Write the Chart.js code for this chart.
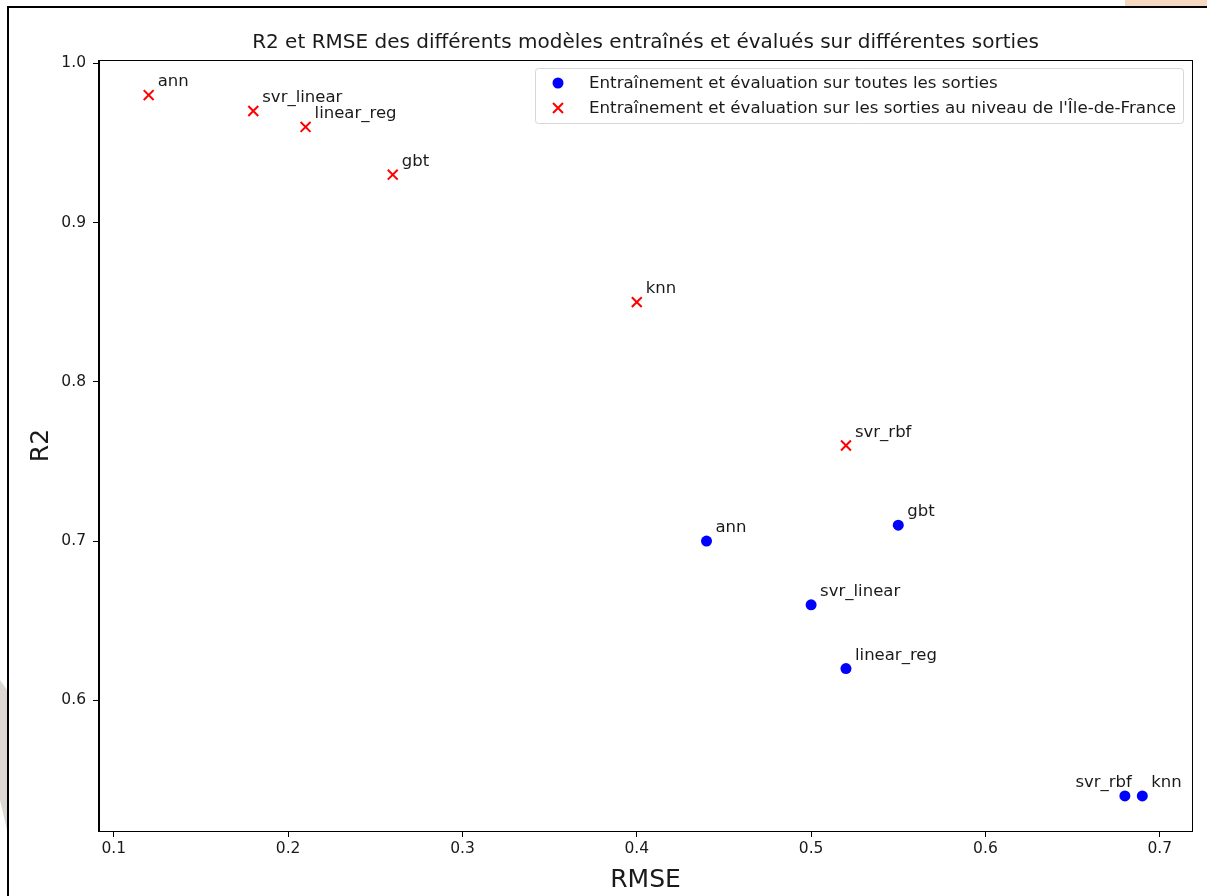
<!DOCTYPE html>
<html>
<head>
<meta charset="utf-8">
<script src="https://cdn.jsdelivr.net/npm/chart.js@4/dist/chart.umd.min.js"></script>
<style>
  html, body { margin: 0; padding: 0; background: #fff; }
  #wrap { width: 1207px; height: 896px; position: relative; }
</style>
</head>
<body>
<div id="wrap"><canvas id="c" width="1207" height="896"></canvas></div>
<script>
// ---- data ----
const titleText = "R2 et RMSE des différents modèles entraînés et évalués sur différentes sorties";
const xTitle = "RMSE";
const yTitle = "R2";
const xTicks = [0.1, 0.2, 0.3, 0.4, 0.5, 0.6, 0.7];
const yTicks = [0.6, 0.7, 0.8, 0.9, 1.0];

const seriesAllLabel = "Entraînement et évaluation sur toutes les sorties";
const allModels = ["ann", "svr_linear", "linear_reg", "gbt", "svr_rbf", "knn"];
const allRmse   = [0.44, 0.50, 0.52, 0.55, 0.68, 0.69];
const allR2     = [0.70, 0.66, 0.62, 0.71, 0.54, 0.54];

const seriesIdfLabel = "Entraînement et évaluation sur les sorties au niveau de l'Île-de-France";
const idfModels = ["ann", "svr_linear", "linear_reg", "gbt", "knn", "svr_rbf"];
const idfRmse   = [0.12, 0.18, 0.21, 0.26, 0.40, 0.52];
const idfR2     = [0.98, 0.97, 0.96, 0.93, 0.85, 0.76];

// ---- build ----
const toPts = (xs, ys) => xs.map((x, i) => ({ x: x, y: ys[i] }));
const FONT = "'DejaVu Sans', sans-serif";
const TXT = "#1a1a1a";

const decorPlugin = {
  id: 'decor',
  beforeDraw(chart) {
    const ctx = chart.ctx;
    ctx.save();
    ctx.fillStyle = '#ffffff';
    ctx.fillRect(0, 0, chart.width, chart.height);
    // faint watermark outside the frame
    ctx.fillStyle = '#f7d9c2';
    ctx.fillRect(1125, 0, 82, 6);
    ctx.fillStyle = '#ddd7d2';
    ctx.beginPath();
    ctx.moveTo(0, 680); ctx.lineTo(7, 690); ctx.lineTo(7, 830); ctx.lineTo(0, 800); ctx.closePath();
    ctx.fill();
    // outer frame
    ctx.strokeStyle = '#000';
    ctx.lineWidth = 2;
    ctx.beginPath();
    ctx.moveTo(8, 900); ctx.lineTo(8, 7); ctx.lineTo(1210, 7);
    ctx.stroke();
    ctx.restore();
  },
  afterDraw(chart) {
    const ctx = chart.ctx;
    const a = chart.chartArea;
    ctx.save();
    // plot frame
    ctx.strokeStyle = '#000';
    ctx.lineWidth = 1;
    ctx.strokeRect(Math.round(a.left) - 0.5, Math.round(a.top) + 0.5, Math.round(a.right - a.left) + 1, Math.round(a.bottom - a.top));
    // title
    ctx.fillStyle = TXT;
    ctx.font = "20px " + FONT;
    ctx.textAlign = 'center';
    ctx.textBaseline = 'alphabetic';
    ctx.fillText(titleText, (a.left + a.right) / 2, 48);
    // axis titles
    ctx.font = "25px " + FONT;
    ctx.fillText(xTitle, (a.left + a.right) / 2, 887);
    ctx.save();
    ctx.translate(48, (a.top + a.bottom) / 2);
    ctx.rotate(-Math.PI / 2);
    ctx.fillText(yTitle, 0, 0);
    ctx.restore();
    // legend
    const lx = 535, ly = 68, lw = 648, lh = 55;
    ctx.fillStyle = 'rgba(255,255,255,0.8)';
    ctx.strokeStyle = '#d6d6d6';
    ctx.lineWidth = 1;
    ctx.beginPath();
    ctx.roundRect(lx + 0.5, ly + 0.5, lw, lh, 3);
    ctx.fill(); ctx.stroke();
    const ds = chart.data.datasets;
    ctx.font = "16.7px " + FONT;
    ctx.textAlign = 'left';
    ctx.textBaseline = 'middle';
    const rows = [83, 108];
    ds.forEach((d, i) => {
      const cy = rows[i], cx = 558;
      if (d.pointStyle === 'circle') {
        ctx.fillStyle = d.backgroundColor;
        ctx.beginPath(); ctx.arc(cx, cy, 5.5, 0, Math.PI * 2); ctx.fill();
      } else {
        ctx.strokeStyle = d.borderColor; ctx.lineWidth = 2;
        ctx.beginPath();
        ctx.moveTo(cx - 5, cy - 5); ctx.lineTo(cx + 5, cy + 5);
        ctx.moveTo(cx + 5, cy - 5); ctx.lineTo(cx - 5, cy + 5);
        ctx.stroke();
      }
      ctx.fillStyle = TXT;
      ctx.fillText(d.label, 589, cy + 1);
    });
    ctx.restore();
  },
  afterDatasetsDraw(chart) {
    const ctx = chart.ctx;
    ctx.save();
    ctx.font = "16.5px " + FONT;
    ctx.fillStyle = TXT;
    ctx.textBaseline = 'alphabetic';
    chart.data.datasets.forEach((d, di) => {
      const meta = chart.getDatasetMeta(di);
      meta.data.forEach((el, i) => {
        const name = d.names[i];
        const right = d.rightAligned.includes(name);
        ctx.textAlign = right ? 'right' : 'left';
        ctx.fillText(name, el.x + (right ? 7 : 9), el.y - 9);
      });
    });
    ctx.restore();
  }
};

const tickFont = { family: FONT, size: 15.5 };

new Chart(document.getElementById('c'), {
  type: 'scatter',
  data: {
    datasets: [
      {
        label: seriesAllLabel,
        names: allModels,
        rightAligned: ['svr_rbf'],
        data: toPts(allRmse, allR2),
        pointStyle: 'circle',
        pointRadius: 5.5,
        pointHoverRadius: 5.5,
        backgroundColor: '#0000ff',
        borderColor: '#0000ff',
        borderWidth: 0
      },
      {
        label: seriesIdfLabel,
        names: idfModels,
        rightAligned: [],
        data: toPts(idfRmse, idfR2),
        pointStyle: 'crossRot',
        pointRadius: 7,
        pointHoverRadius: 7,
        backgroundColor: '#ff0000',
        borderColor: '#ff0000',
        borderWidth: 2
      }
    ]
  },
  options: {
    responsive: false,
    animation: false,
    devicePixelRatio: 1,
    layout: { padding: { top: 60, right: 15, left: 0, bottom: 0 } },
    plugins: {
      legend: { display: false },
      title: { display: false },
      tooltip: { enabled: false }
    },
    scales: {
      x: {
        type: 'linear',
        min: 0.0915,
        max: 0.7185,
        afterBuildTicks: s => { s.ticks = xTicks.map(v => ({ value: v })); },
        afterFit: s => { s.height = 896 - 831; },
        ticks: {
          callback: v => Number(v).toFixed(1),
          font: tickFont, color: TXT, padding: 3, maxRotation: 0, autoSkip: false
        },
        grid: { display: true, drawOnChartArea: false, drawTicks: true, tickLength: 6, color: '#000', tickWidth: 1 },
        border: { display: true, color: '#000', width: 1 }
      },
      y: {
        type: 'linear',
        min: 0.518,
        max: 1.002,
        afterBuildTicks: s => { s.ticks = yTicks.map(v => ({ value: v })); },
        afterFit: s => { s.width = 99; },
        ticks: {
          callback: v => Number(v).toFixed(1),
          font: tickFont, color: TXT, padding: 7, autoSkip: false
        },
        grid: { display: true, drawOnChartArea: false, drawTicks: true, tickLength: 6, color: '#000', tickWidth: 1 },
        border: { display: true, color: '#000', width: 1 }
      }
    }
  },
  plugins: [decorPlugin]
});
</script>
</body>
</html>
